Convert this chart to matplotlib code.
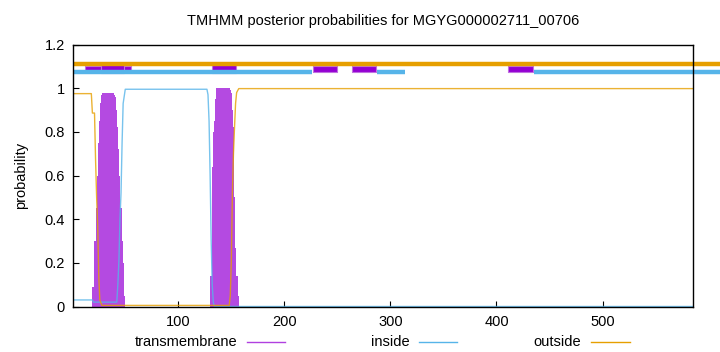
import matplotlib
matplotlib.use("Agg")
import matplotlib.pyplot as plt
import numpy as np

plt.rcParams['font.family'] = ['Liberation Sans', 'DejaVu Sans']

title = "TMHMM posterior probabilities for MGYG000002711_00706"
seq_len = 585

# transmembrane posterior (residue, prob)
tm_res = list(range(19, 50)) + list(range(130, 158))
tm_prob = [0.09, 0.09, 0.30, 0.30, 0.45, 0.60, 0.75, 0.85, 0.93, 0.97,
           0.98, 0.98, 0.98, 0.98, 0.98, 0.98, 0.98, 0.98, 0.98, 0.98, 0.98,
           0.97, 0.96, 0.90, 0.82, 0.72, 0.60, 0.45, 0.30, 0.20, 0.05,
           0.14, 0.14, 0.64, 0.80, 0.85, 0.95,
           1.0, 1.0, 1.0, 1.0, 1.0, 1.0, 1.0, 1.0, 1.0, 1.0, 1.0, 1.0, 1.0,
           0.99, 0.98, 0.90, 0.82, 0.50, 0.27, 0.14, 0.14, 0.05]

# inside posterior curve
in_x = [1, 19, 20, 42, 43, 44, 45, 46, 47, 48, 50, 127, 128, 129, 130, 131, 132, 133, 134, 585]
in_y = [0.03, 0.03, 0.02, 0.02, 0.10, 0.21, 0.40, 0.52, 0.75, 0.93, 0.995, 0.995, 0.97, 0.85, 0.60, 0.30, 0.10, 0.02, 0.0, 0.0]

# outside posterior curve
out_x = [1, 18, 19, 20, 21, 22, 23, 24, 25, 26, 28, 130, 148, 149, 150, 151, 152, 153, 154, 155, 157, 585]
out_y = [0.975, 0.975, 0.886, 0.886, 0.886, 0.67, 0.50, 0.37, 0.14, 0.03, 0.005, 0.005, 0.005, 0.05, 0.21, 0.52, 0.70, 0.82, 0.93, 0.98, 0.998, 0.998]

# topology tracks
outside_track = [(1, 611)]
inside_track = [(1, 226), (287, 314), (435, 611)]
tm_boxes_tall = [(27, 49), (132, 154)]
tm_boxes_small = [(12, 55), (227, 250), (264, 286), (411, 434)]

c_tm = "#B040E0"
c_box = "#9400D3"
c_in = "#56B4E9"
c_out = "#E69F00"

fig = plt.figure(figsize=(7.2, 3.52), dpi=100)
ax = fig.add_axes([73.3 / 720, 45.5 / 352, (692.7 - 73.3) / 720, 262 / 352])

ax.bar(tm_res, tm_prob, width=1.0, color=c_tm, edgecolor='none', alpha=0.95)
ax.plot(in_x, in_y, color=c_in, lw=1.0, alpha=0.8)
ax.plot(out_x, out_y, color=c_out, lw=1.0, alpha=0.8)

for a, b in outside_track:
    ax.plot([a, b], [1.111, 1.111], color=c_out, lw=3.2, solid_capstyle='butt', clip_on=False)
for a, b in inside_track:
    ax.plot([a, b], [1.072, 1.072], color=c_in, lw=3.2, solid_capstyle='butt', clip_on=False)
for a, b in tm_boxes_small:
    ax.fill_between([a, b], 1.075, 1.103, color=c_box, edgecolor='#C070E0', lw=0.8, clip_on=False)
for a, b in tm_boxes_tall:
    ax.fill_between([a, b], 1.070, 1.117, color=c_box, edgecolor='#C070E0', lw=0.8, clip_on=False)

ax.set_xlim(1, seq_len)
ax.set_ylim(0, 1.2)
ax.set_xticks([100, 200, 300, 400, 500])
ax.set_yticks([0, 0.2, 0.4, 0.6, 0.8, 1.0, 1.2])
ax.set_yticklabels(["0", "0.2", "0.4", "0.6", "0.8", "1", "1.2"])
ax.tick_params(direction='in', length=4, labelsize=10.5, width=0.8, pad=6)
for s in ax.spines.values():
    s.set_linewidth(1.0)

ax.set_ylabel("probability", fontsize=10.5, labelpad=12)
ax.set_title(title, fontsize=10.5, pad=14)

# legend below axes
fs = 10.5
y_leg = 342
def entry(text_right_px, line_x0, line_x1, label, color):
    fig.text(text_right_px / 720, 1 - y_leg / 352, label, ha='right', va='center', fontsize=fs)
    fig.add_artist(plt.Line2D([line_x0 / 720, line_x1 / 720], [1 - y_leg / 352] * 2,
                              color=color, lw=1.0, transform=fig.transFigure))
entry(237, 247, 285, "transmembrane", c_tm)
entry(410, 419, 457, "inside", c_in)
entry(581, 591, 630, "outside", c_out)

fig.savefig("out.png", dpi=100)
